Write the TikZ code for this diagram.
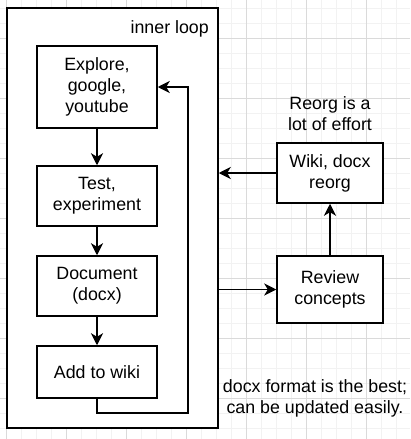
\documentclass[tikz,border=0pt]{standalone}
\usepackage{fontspec}
\setmainfont{Liberation Sans}
\usetikzlibrary{arrows.meta,calc}
\definecolor{gridmin}{HTML}{F2F2F2}
\definecolor{gridmaj}{HTML}{DADADA}
\begin{document}
\begin{tikzpicture}[x=1pt,y=-1pt,
  txt/.style={font=\fontsize{17.8}{21}\selectfont},
  box/.style={txt, draw=black, line width=1.5pt, fill=white, align=center, inner sep=0pt, minimum width=120pt},
  rbox/.style={box, minimum width=106pt},
  lbl/.style={txt, align=center, inner sep=0pt},
  conn/.style={line width=1.5pt, -{Stealth[length=12pt,width=12pt,inset=3.5pt]}},
  plain/.style={line width=1.5pt}]
\useasboundingbox (0,0) rectangle (410,439);
\fill[white] (0,0) rectangle (410,439);
% grid
\foreach \i in {0,...,27} {\draw[gridmin,line width=1pt] ({6.3+15*\i},0) -- ++(0,439);}
\foreach \i in {0,...,29} {\draw[gridmin,line width=1pt] (0,{8.3+15*\i}) -- ++(410,0);}
\foreach \i in {0,...,6} {\draw[gridmaj,line width=1pt] ({6.3+60*\i},0) -- ++(0,439);}
\foreach \i in {0,...,6} {\draw[gridmaj,line width=1pt] (0,{38.3+60*\i}) -- ++(410,0);}
% container
\node[draw=black, line width=1.5pt, fill=white, minimum width=211pt, minimum height=420pt, inner sep=0pt] (container) at (112.5,218) {};
\node[lbl, anchor=east] (innerlbl) at (209,29) {inner loop};
% left column
\node[box, minimum height=82pt] (explore) at (97,87) {Explore,\\google,\\youtube};
\node[box, minimum height=60pt] (test) at (97,196) {Test,\\experiment};
\node[box, minimum height=60pt] (doc) at (97,286) {Document\\(docx)};
\node[box, minimum height=52pt] (add) at (97,372) {Add to wiki};
\draw[conn] (explore.south) -- (test.north);
\draw[conn] (test.south) -- (doc.north);
\draw[conn] (doc.south) -- (add.north);
\coordinate (loopc) at (188,413);
\draw[conn] (add.south) |- (loopc) |- (explore.east);
% right column
\node[rbox, minimum height=60pt] (wiki) at (330,173) {Wiki, docx\\reorg};
\node[rbox, minimum height=67pt] (review) at (330,289.5) {Review\\concepts};
\node[lbl] (reorglbl) at (330,113.5) {Reorg is a\\lot of effort};
\node[lbl] (docxlbl) at (315,398.5) {docx format is the best;\\can be updated easily.};
\draw[conn] (review.north) -- (wiki.south);
\draw[conn] (wiki.west) -- (wiki.west -| container.east);
\draw[conn] (review.west -| container.east) -- (review.west);
\end{tikzpicture}
\end{document}
